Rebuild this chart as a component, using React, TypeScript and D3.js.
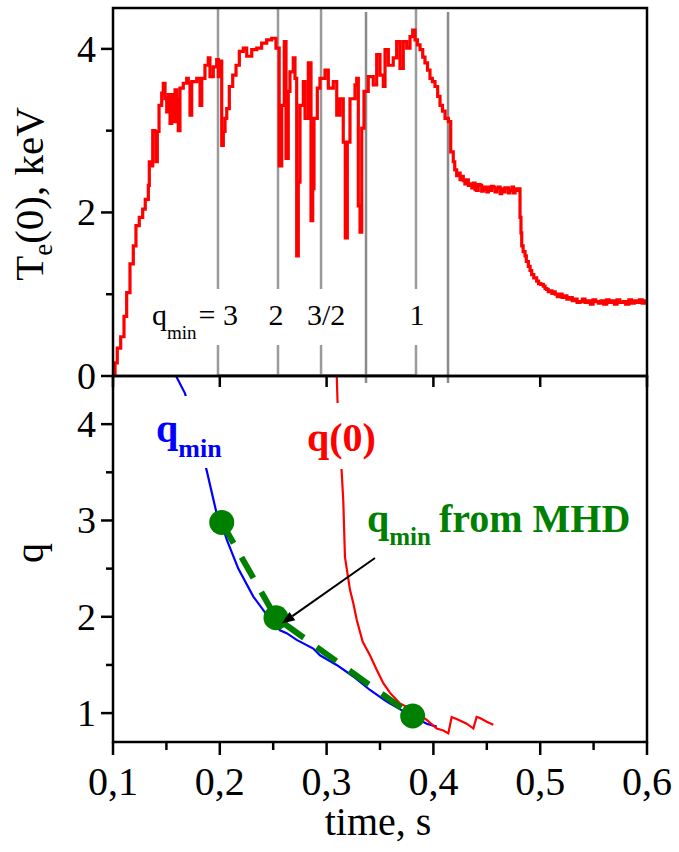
import React from 'react';
import * as d3 from 'd3';

// ---------- data ----------
const teTime = [
  0.1003, 0.1019, 0.1040, 0.1072, 0.1103, 0.1128, 0.1159, 0.1190, 0.1215, 0.1246,
  0.1278, 0.1302, 0.1331, 0.1340, 0.1362, 0.1372, 0.1393, 0.1403, 0.1415, 0.1431,
  0.1456, 0.1471, 0.1487, 0.1503, 0.1518, 0.1534, 0.1550, 0.1565, 0.1581, 0.1596,
  0.1611, 0.1627, 0.1658, 0.1690, 0.1705, 0.1721, 0.1737, 0.1784, 0.1815, 0.1831,
  0.1861, 0.1892, 0.1908, 0.1939, 0.1971, 0.1986, 0.2002, 0.2018, 0.2033, 0.2049,
  0.2065, 0.2089, 0.2121, 0.2152, 0.2183, 0.2220, 0.2252, 0.2299, 0.2346, 0.2392,
  0.2439, 0.2486, 0.2526, 0.2556, 0.2580, 0.2604, 0.2620, 0.2641, 0.2657, 0.2688,
  0.2704, 0.2720, 0.2735, 0.2751, 0.2782, 0.2798, 0.2829, 0.2854, 0.2870, 0.2882,
  0.2913, 0.2938, 0.2985, 0.3016, 0.3063, 0.3095, 0.3125, 0.3156, 0.3175, 0.3194,
  0.3219, 0.3266, 0.3282, 0.3297, 0.3313, 0.3329, 0.3350, 0.3390, 0.3437, 0.3469,
  0.3500, 0.3531, 0.3547, 0.3578, 0.3624, 0.3656, 0.3687, 0.3718, 0.3750, 0.3781,
  0.3806, 0.3828, 0.3850, 0.3875, 0.3900, 0.3921, 0.3945, 0.3968, 0.3990, 0.4015,
  0.4040, 0.4062, 0.4085, 0.4109, 0.4140, 0.4162, 0.4186, 0.4200, 0.4218, 0.4235,
  0.4250, 0.4265, 0.4280, 0.4295, 0.4310, 0.4327, 0.4343, 0.4360, 0.4375, 0.4390,
  0.4405, 0.4420, 0.4437, 0.4452, 0.4467, 0.4485, 0.4500, 0.4515, 0.4530, 0.4545,
  0.4560, 0.4577, 0.4593, 0.4610, 0.4625, 0.4640, 0.4655, 0.4670, 0.4687, 0.4702,
  0.4717, 0.4735, 0.4750, 0.4765, 0.4780, 0.4801, 0.4811, 0.4820, 0.4827, 0.4840,
  0.4858, 0.4870, 0.4889, 0.4905, 0.4920, 0.4940, 0.4967, 0.4985, 0.5005, 0.5029,
  0.5045, 0.5060, 0.5075, 0.5092, 0.5110, 0.5125, 0.5140, 0.5160, 0.5185, 0.5205,
  0.5230, 0.5250, 0.5279, 0.5300, 0.5325, 0.5345, 0.5373, 0.5395, 0.5420, 0.5445,
  0.5470, 0.5495, 0.5520, 0.5545, 0.5570, 0.5595, 0.5623, 0.5645, 0.5670, 0.5695,
  0.5720, 0.5745, 0.5778, 0.5800, 0.5830, 0.5855, 0.5880, 0.5905, 0.5930, 0.5955,
  0.5980, 0.5997,
];
const teValue = [
  0.00, 0.16, 0.34, 0.48, 0.73, 1.02, 1.37, 1.59, 1.84, 1.94,
  2.04, 2.16, 2.33, 2.62, 2.57, 3.00, 2.99, 2.62, 2.99, 3.31,
  3.46, 3.58, 3.39, 3.23, 3.44, 3.09, 3.44, 3.11, 3.50, 3.39,
  3.00, 3.52, 3.58, 3.64, 3.58, 3.19, 3.60, 3.64, 3.31, 3.64,
  3.80, 3.89, 3.66, 3.78, 3.87, 3.66, 3.85, 2.82, 2.99, 3.15,
  3.27, 3.54, 3.68, 3.80, 3.97, 4.01, 3.91, 3.99, 4.01, 4.07,
  4.11, 4.13, 4.01, 2.57, 3.31, 4.09, 2.66, 3.48, 3.72, 3.89,
  3.64, 1.47, 2.37, 3.31, 3.60, 3.15, 3.83, 1.90, 2.29, 3.15,
  3.52, 3.64, 3.74, 3.52, 3.60, 3.19, 3.39, 2.86, 1.69, 2.86,
  3.39, 3.56, 3.64, 2.08, 1.76, 3.03, 3.48, 3.66, 3.56, 3.93,
  3.68, 3.54, 3.99, 3.80, 3.89, 4.09, 3.76, 4.09, 4.01, 4.15,
  4.23, 4.11, 4.05, 3.99, 3.90, 3.83, 3.74, 3.64, 3.60, 3.54,
  3.42, 3.31, 3.24, 3.15, 3.11, 2.74, 2.62, 2.52, 2.45, 2.48,
  2.40, 2.44, 2.39, 2.35, 2.40, 2.33, 2.35, 2.30, 2.36, 2.28,
  2.27, 2.34, 2.33, 2.26, 2.31, 2.28, 2.25, 2.31, 2.27, 2.32,
  2.31, 2.25, 2.29, 2.31, 2.23, 2.29, 2.25, 2.30, 2.30, 2.24,
  2.27, 2.31, 2.24, 2.29, 2.27, 2.29, 1.94, 1.75, 1.59, 1.52,
  1.47, 1.40, 1.34, 1.29, 1.24, 1.20, 1.16, 1.13, 1.12, 1.10,
  1.07, 1.06, 1.03, 1.04, 1.01, 1.03, 1.00, 0.97, 1.00, 0.96,
  0.98, 0.94, 0.96, 0.92, 0.94, 0.90, 0.91, 0.94, 0.90, 0.92,
  0.88, 0.93, 0.91, 0.89, 0.92, 0.88, 0.93, 0.90, 0.92, 0.88,
  0.93, 0.90, 0.91, 0.88, 0.93, 0.89, 0.92, 0.90, 0.93, 0.89,
  0.92, 0.91,
];

const qminTime = [
  0.1590, 0.1674, 0.1777, 0.1877, 0.1971, 0.2018, 0.2065, 0.2173, 0.2314, 0.2454,
  0.2564, 0.2626, 0.2720, 0.2875, 0.2938, 0.3094, 0.3250, 0.3406, 0.3563, 0.3750,
  0.3937, 0.4031,
];
const qminValue = [
  4.50, 4.32, 3.91, 3.52, 3.07, 2.97, 2.80, 2.50, 2.21, 2.00,
  1.86, 1.83, 1.76, 1.67, 1.60, 1.50, 1.38, 1.24, 1.12, 1.00,
  0.89, 0.86,
];

const q0Time = [
  0.3095, 0.3102, 0.3116, 0.3141, 0.3156, 0.3172, 0.3219, 0.3250, 0.3282, 0.3338,
  0.3406, 0.3469, 0.3531, 0.3594, 0.3687, 0.3812, 0.3937, 0.4031, 0.4093, 0.4140,
  0.4171, 0.4233, 0.4312, 0.4374, 0.4405, 0.4436, 0.4499, 0.4561,
];
const q0Value = [
  4.50, 4.25, 3.84, 3.51, 3.21, 2.62, 2.28, 2.14, 1.97, 1.74,
  1.60, 1.45, 1.31, 1.21, 1.10, 1.03, 0.93, 0.84, 0.82, 0.79,
  0.96, 0.93, 0.89, 0.84, 0.96, 0.95, 0.91, 0.88,
];

const mhdTime = [0.2018, 0.2526, 0.3806];
const mhdValue = [2.98, 1.99, 0.97];

const resonanceTimes = [0.1983, 0.2545, 0.2948, 0.3369, 0.3837, 0.4137];
const resonanceLabels = ['2', '3/2', '1'];
const resonanceLabelTimes = [0.2526, 0.2995, 0.3846];

const xTicks = [0.1, 0.2, 0.3, 0.4, 0.5, 0.6];
const xTickLabels = ['0,1', '0,2', '0,3', '0,4', '0,5', '0,6'];
const xMinorTicks = [0.15, 0.25, 0.35, 0.45, 0.55];
const teTicks = [0, 2, 4];
const teMinorTicks = [1, 3];
const qTicks = [1, 2, 3, 4];
const qMinorTicks = [1.5, 2.5, 3.5];

const arrowFrom = [0.3453, 2.61];
const arrowTo = [0.2580, 1.93];

const FONT = "'Liberation Serif', 'Times New Roman', serif";

export default function App() {
  const W = 679;
  const H = 852;
  const left = 113, right = 647;
  const topY = 8, midY = 376, botY = 742;

  const x = d3.scaleLinear().domain([0.1, 0.6]).range([left, right]);
  const yT = d3.scaleLinear().domain([0, 4.5]).range([midY, topY]);
  const yQ = d3.scaleLinear().domain([0.7, 4.5]).range([botY, midY]);

  const teLine = d3.line<number>()
    .x((_, i) => x(teTime[i]))
    .y((d) => yT(d))
    .curve(d3.curveStepAfter);
  const qminLine = d3.line<number>().x((_, i) => x(qminTime[i])).y((d) => yQ(d));
  const q0Line = d3.line<number>().x((_, i) => x(q0Time[i])).y((d) => yQ(d));
  const mhdLine = d3.line<number>().x((_, i) => x(mhdTime[i])).y((d) => yQ(d));

  const ax0 = x(arrowFrom[0]), ay0 = yQ(arrowFrom[1]);
  const ax1 = x(arrowTo[0]), ay1 = yQ(arrowTo[1]);
  const ang = Math.atan2(ay1 - ay0, ax1 - ax0);
  const hl = 13, hw = 5;
  const bx = ax1 - hl * Math.cos(ang), by = ay1 - hl * Math.sin(ang);
  const head = [
    [ax1, ay1],
    [bx + hw * Math.sin(ang), by - hw * Math.cos(ang)],
    [bx - hw * Math.sin(ang), by + hw * Math.cos(ang)],
  ].map((p) => p.join(',')).join(' ');

  const grayUnder = resonanceTimes.filter((_, i) => i !== 3 && i !== 5);
  const grayOver = [resonanceTimes[3], resonanceTimes[5]];

  return (
    <svg width={W} height={H} style={{ position: 'absolute', left: 0, top: 0, background: '#fff' }}
      fontFamily={FONT}>
      <defs>
        <clipPath id="clipTop"><rect x={left} y={topY} width={right - left} height={midY - topY} /></clipPath>
        <clipPath id="clipBot"><rect x={left} y={midY} width={right - left} height={botY - midY} /></clipPath>
      </defs>
      <rect x={0} y={0} width={W} height={H} fill="#fff" />

      {/* ---------- top panel ---------- */}
      {grayUnder.map((t, i) => (
        <line key={'gu' + i} x1={x(t)} x2={x(t)} y1={topY} y2={midY} stroke="#9a9a9a" strokeWidth={2.5} />
      ))}
      <rect x={146} y={289} width={300} height={56} fill="#fff" />
      {grayOver.map((t, i) => (
        <line key={'go' + i} x1={x(t)} x2={x(t)} y1={topY + 4} y2={midY + 7} stroke="#8a8a8a" strokeWidth={2.5} />
      ))}
      <line x1={x(resonanceTimes[0])} x2={x(resonanceTimes[4])} y1={midY - 1} y2={midY - 1} stroke="#999" strokeWidth={2} />

      <text x={152} y={325} fontSize={30}>
        q<tspan fontSize={19} dy={14}>min</tspan><tspan dy={-14} dx={2}>= 3</tspan>
      </text>
      {resonanceLabels.map((s, i) => (
        <text key={'rl' + i} x={x(resonanceLabelTimes[i])} y={325} fontSize={30} textAnchor="middle">{s}</text>
      ))}

      <path d={teLine(teValue) || ''} fill="none" stroke="#ff0000" strokeWidth={3.2} clipPath="url(#clipTop)" />

      {/* ---------- bottom panel curves ---------- */}
      <g clipPath="url(#clipBot)">
        <path d={qminLine(qminValue) || ''} fill="none" stroke="#0000ff" strokeWidth={2.2} />
        <path d={q0Line(q0Value) || ''} fill="none" stroke="#ff0000" strokeWidth={2.2} />
        <path d={mhdLine(mhdValue) || ''} fill="none" stroke="#008000" strokeWidth={6} strokeDasharray="24 16" />
      </g>
      {mhdValue.map((v, i) => (
        <circle key={'m' + i} cx={x(mhdTime[i])} cy={yQ(v)} r={12.5} fill="#008000" />
      ))}
      <line x1={ax0} y1={ay0} x2={bx} y2={by} stroke="#000" strokeWidth={2} />
      <polygon points={head} fill="#000" />

      {/* labels in bottom panel */}
      <rect x={155} y={396} width={70} height={72} fill="#fff" />
      <text x={156} y={442} fontSize={40} fontWeight="bold" fill="#0000ff">
        q<tspan fontSize={26} dy={15}>min</tspan>
      </text>
      <rect x={305} y={403} width={72} height={66} fill="#fff" />
      <text x={307} y={451} fontSize={40} fontWeight="bold" fill="#ff0000">q(0)</text>
      <text x={367} y={532} fontSize={40} fontWeight="bold" fill="#008000">
        q<tspan fontSize={25} dy={13}>min</tspan><tspan dy={-13} dx={8}>from MHD</tspan>
      </text>

      {/* ---------- frames ---------- */}
      <rect x={left} y={topY} width={right - left} height={midY - topY} fill="none" stroke="#000" strokeWidth={2.5} />
      <rect x={left} y={midY} width={right - left} height={botY - midY} fill="none" stroke="#000" strokeWidth={2.5} />

      {/* top panel y ticks */}
      {teTicks.map((v) => (
        <g key={'tt' + v}>
          <line x1={left - 12} x2={left} y1={yT(v)} y2={yT(v)} stroke="#000" strokeWidth={2.5} />
          <text x={96} y={yT(v)} fontSize={38} textAnchor="end" dominantBaseline="central">{v}</text>
        </g>
      ))}
      {teMinorTicks.map((v) => (
        <line key={'tm' + v} x1={left - 7} x2={left} y1={yT(v)} y2={yT(v)} stroke="#000" strokeWidth={2.5} />
      ))}
      {/* top panel bottom ticks */}
      {xTicks.map((t) => (
        <line key={'tx' + t} x1={x(t)} x2={x(t)} y1={midY} y2={midY + 11} stroke="#000" strokeWidth={2.5} />
      ))}

      {/* bottom panel y ticks */}
      {qTicks.map((v) => (
        <g key={'qt' + v}>
          <line x1={left - 12} x2={left} y1={yQ(v)} y2={yQ(v)} stroke="#000" strokeWidth={2.5} />
          <text x={96} y={yQ(v)} fontSize={38} textAnchor="end" dominantBaseline="central">{v}</text>
        </g>
      ))}
      {qMinorTicks.map((v) => (
        <line key={'qm' + v} x1={left - 7} x2={left} y1={yQ(v)} y2={yQ(v)} stroke="#000" strokeWidth={2.5} />
      ))}
      {/* bottom x ticks */}
      {xTicks.map((t, i) => (
        <g key={'bx' + t}>
          <line x1={x(t)} x2={x(t)} y1={botY} y2={botY + 13} stroke="#000" strokeWidth={2.5} />
          <text x={x(t)} y={795} fontSize={40} textAnchor="middle">{xTickLabels[i]}</text>
        </g>
      ))}
      {xMinorTicks.map((t) => (
        <line key={'bm' + t} x1={x(t)} x2={x(t)} y1={botY} y2={botY + 8} stroke="#000" strokeWidth={2.5} />
      ))}

      {/* axis titles */}
      <text transform={`translate(43, ${(topY + midY) / 2 + 2}) rotate(-90)`} fontSize={41} textAnchor="middle">
        T<tspan fontSize={27} dy={9}>e</tspan><tspan dy={-9}>(0), keV</tspan>
      </text>
      <text transform={`translate(43, 553) rotate(-90)`} fontSize={40} textAnchor="middle">q</text>
      <text x={(left + right) / 2 - 2} y={835} fontSize={40} textAnchor="middle">time, s</text>
    </svg>
  );
}
